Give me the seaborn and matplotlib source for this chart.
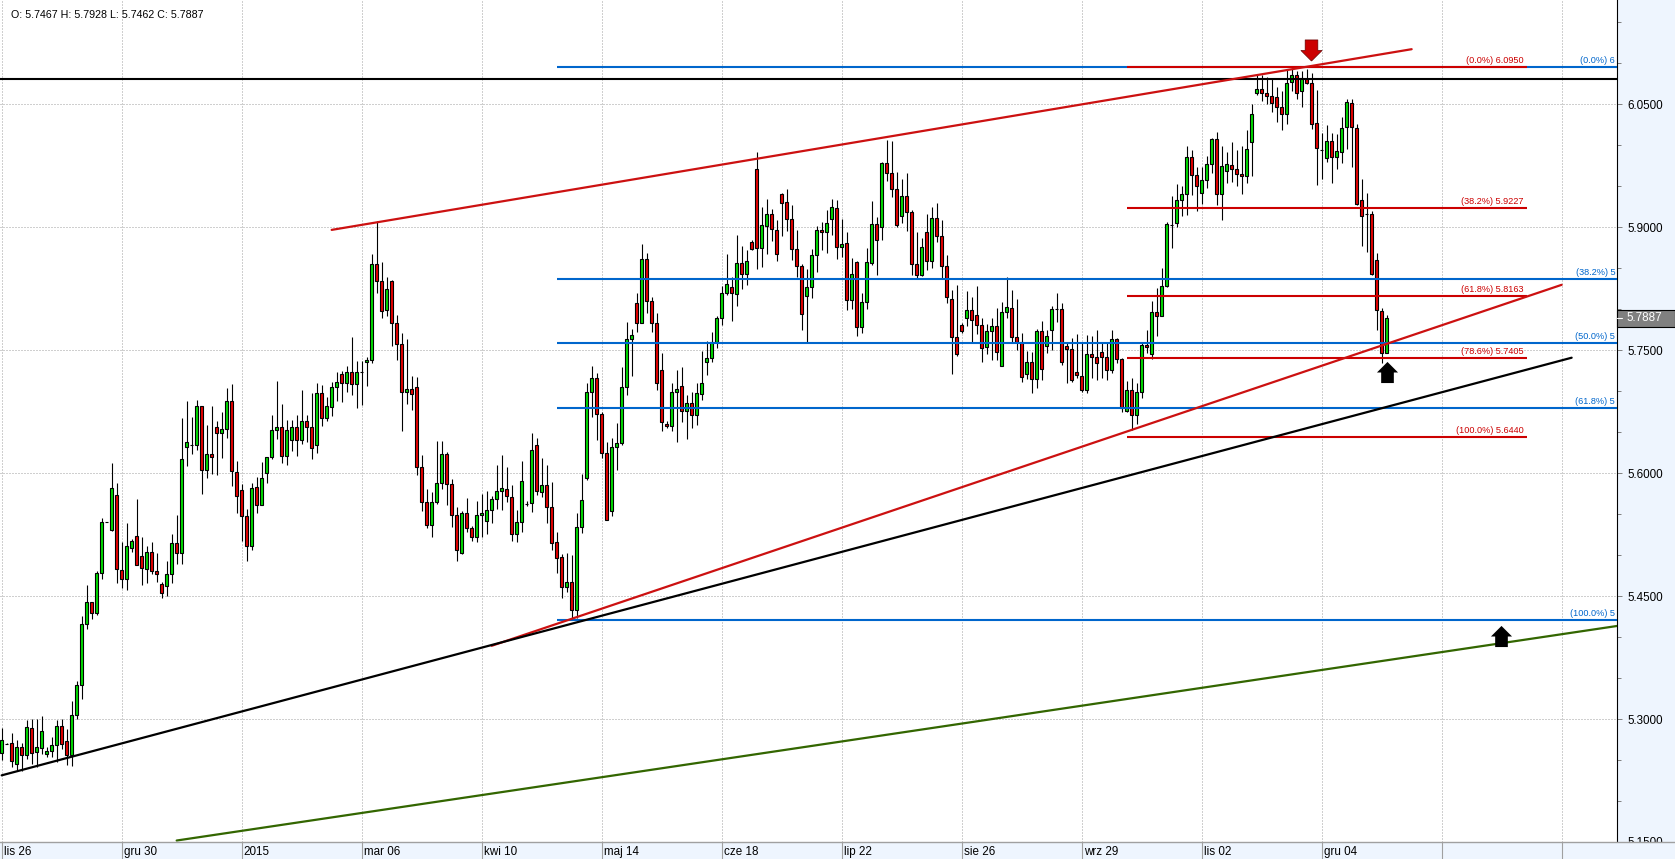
import numpy as np
import pandas as pd
import matplotlib
matplotlib.use("Agg")
import matplotlib.pyplot as plt
from matplotlib.patches import Rectangle
from matplotlib.path import Path
import seaborn as sns

opens = [5.2585,5.2699,5.2707,5.2451,5.2658,5.2557,5.2890,5.2593,5.2646,5.2569,
5.2609,5.2683,5.2914,5.2731,5.2557,5.3048,5.3414,5.4158,5.4426,5.4288,
5.4780,5.5402,5.5304,5.5731,5.4817,5.4707,5.5085,5.5231,5.4987,5.4829,
5.5036,5.4804,5.4646,5.4622,5.4768,5.5146,5.5024,5.6317,5.6345,5.6341,
5.6817,5.6036,5.6231,5.6561,5.6487,5.6536,5.6878,5.6012,5.5792,5.5475,
5.5109,5.5829,5.5609,5.6000,5.6195,5.6524,5.6561,5.6207,5.6402,5.6561,
5.6402,5.6634,5.6561,5.6341,5.6975,5.6670,5.6805,5.7048,5.7207,5.7097,
5.7231,5.7085,5.7231,5.7353,5.7378,5.8548,5.8341,5.7987,5.8341,5.7829,
5.7573,5.6987,5.7024,5.7048,5.6073,5.5646,5.5366,5.5646,5.5878,5.6231,
5.5866,5.5487,5.5024,5.5512,5.5329,5.5219,5.5487,5.5414,5.5548,5.5683,
5.5780,5.5805,5.5707,5.5256,5.5402,5.5626,5.5634,5.6341,5.5768,5.5853,
5.5585,5.5158,5.4975,5.4609,5.4670,5.4329,5.5341,5.5939,5.6987,5.7158,
5.6719,5.6244,5.5536,5.6317,5.6366,5.7048,5.7634,5.8073,5.7829,5.8609,
5.8097,5.7829,5.7256,5.6597,5.6573,5.6987,5.7061,5.6756,5.6853,5.6707,
5.6963,5.7353,5.7402,5.7597,5.7890,5.8195,5.8268,5.8183,5.8561,5.8427,
5.8817,5.9707,5.8744,5.9012,5.9158,5.8963,5.9406,5.9305,5.9097,5.8731,
5.8529,5.8159,5.8268,5.8659,5.8963,5.8939,5.9098,5.9232,5.8756,5.8805,
5.8110,5.8573,5.7781,5.8085,5.8561,5.9037,5.9000,5.9781,5.9659,5.9463,
5.9134,5.9378,5.9183,5.8549,5.8415,5.8939,5.8585,5.9110,5.8890,5.8524,
5.8122,5.7659,5.7805,5.7890,5.7988,5.7927,5.7805,5.7537,5.7732,5.7793,
5.7305,5.7963,5.8012,5.7659,5.7598,5.7207,5.7354,5.7146,5.7732,5.7549,
5.7744,5.8000,5.8000,5.7549,5.7512,5.7232,5.7183,5.7012,5.7451,5.7415,
5.7476,5.7415,5.7256,5.7634,5.7390,5.6756,5.7012,5.6707,5.6988,5.7561,
5.7451,5.7963,5.7915,5.8281,5.9029,5.9049,5.9329,5.9403,5.9854,5.9634,
5.9415,5.9573,5.9768,6.0073,5.9402,5.9682,5.9756,5.9707,5.9646,5.9621,
6.0036,6.0630,6.0682,6.0634,6.0597,6.0585,6.0463,6.0378,6.0768,6.0853,
6.0658,6.0804,6.0756,6.0268,5.9939,5.9841,6.0048,5.9853,5.9914,6.0219,
6.0512,6.0207,5.9329,5.9158,5.9158,5.8597,5.7975,5.7467]

highs = [5.2894,5.2705,5.2829,5.2748,5.2711,5.2992,5.3000,5.3000,5.3040,5.2658,
5.2780,5.2983,5.3004,5.2882,5.3223,5.3463,5.4256,5.4638,5.4426,5.4804,
5.5451,5.5406,5.6126,5.5878,5.5162,5.5390,5.5199,5.5687,5.5223,5.5109,
5.5158,5.5028,5.4670,5.4931,5.5260,5.5491,5.6674,5.6878,5.6687,5.6894,
5.6817,5.6589,5.6817,5.6638,5.6743,5.7040,5.7089,5.6146,5.5870,5.5565,
5.5882,5.5951,5.6134,5.6199,5.6711,5.7117,5.6845,5.6650,5.6650,5.6711,
5.7016,5.6711,5.6979,5.7101,5.7077,5.6926,5.7109,5.7231,5.7244,5.7309,
5.7662,5.7365,5.7361,5.7414,5.8674,5.9069,5.8573,5.8390,5.8357,5.7926,
5.7711,5.7634,5.7187,5.7174,5.6219,5.5809,5.5768,5.6390,5.6390,5.6256,
5.5927,5.5585,5.5536,5.5695,5.5349,5.5658,5.5740,5.5784,5.5719,5.6097,
5.6219,5.6077,5.5853,5.5548,5.6146,5.5654,5.6487,5.6427,5.6183,5.6101,
5.5890,5.5284,5.5012,5.5024,5.4996,5.5512,5.5988,5.7097,5.7309,5.7223,
5.6744,5.6378,5.6427,5.6609,5.7292,5.7845,5.7756,5.8195,5.8796,5.8683,
5.8146,5.7951,5.7463,5.6634,5.7101,5.7256,5.7292,5.6951,5.6987,5.7101,
5.7492,5.7613,5.7723,5.7910,5.8284,5.8670,5.8390,5.8906,5.8772,5.8723,
5.8845,5.9914,5.9244,5.9341,5.9219,5.9089,5.9410,5.9463,5.9272,5.8967,
5.8549,5.8488,5.8732,5.9016,5.9065,5.9211,5.9342,5.9329,5.9098,5.8939,
5.8622,5.8585,5.8195,5.8744,5.9317,5.9122,5.9789,6.0065,6.0049,5.9675,
5.9585,5.9659,5.9211,5.8939,5.8866,5.9159,5.9244,5.9293,5.9089,5.8663,
5.8232,5.8293,5.7829,5.8216,5.8146,5.8285,5.7890,5.7821,5.7890,5.8012,
5.8085,5.8394,5.8232,5.8122,5.7707,5.7484,5.7476,5.7756,5.7850,5.7748,
5.8037,5.8199,5.8077,5.7585,5.7646,5.7695,5.7585,5.7687,5.7675,5.7748,
5.7585,5.7585,5.7748,5.7646,5.7398,5.7118,5.7159,5.7098,5.7598,5.7748,
5.8098,5.8256,5.8500,5.9061,5.9382,5.9524,5.9496,5.9988,5.9935,5.9732,
5.9732,5.9862,6.0085,6.0158,5.9987,5.9918,6.0036,5.9943,5.9987,6.0186,
6.0500,6.0869,6.0857,6.0829,6.0804,6.0707,6.0662,6.0926,6.0926,6.0910,
6.0898,6.0926,6.0878,6.0674,6.0146,6.0247,6.0146,6.0134,6.0341,6.0560,
6.0560,6.0256,5.9585,5.9414,5.9195,5.8682,5.8012,5.7928]

lows = [5.2504,5.2690,5.2414,5.2374,5.2361,5.2516,5.2455,5.2414,5.2577,5.2536,
5.2536,5.2475,5.2630,5.2443,5.2422,5.2996,5.3239,5.4093,5.4223,5.4264,
5.4703,5.5398,5.5288,5.4662,5.4601,5.4569,5.5032,5.4874,5.4630,5.4662,
5.4764,5.4670,5.4479,5.4496,5.4662,5.4886,5.4886,5.6081,5.6235,5.6276,
5.5739,5.5943,5.5983,5.5971,5.6187,5.6430,5.5837,5.5508,5.5166,5.4922,
5.5057,5.5512,5.5605,5.5878,5.6166,5.6418,5.6126,5.6093,5.6264,5.6207,
5.6357,5.6378,5.6166,5.6248,5.6569,5.6630,5.6695,5.6874,5.6861,5.6983,
5.6947,5.6788,5.6833,5.7057,5.7337,5.8195,5.7890,5.7910,5.7544,5.7374,
5.6508,5.6845,5.6764,5.5979,5.5532,5.5325,5.5215,5.5622,5.5805,5.5605,
5.5337,5.4922,5.5012,5.5276,5.5166,5.5154,5.5215,5.5252,5.5390,5.5561,
5.5553,5.5642,5.5166,5.5154,5.5276,5.5601,5.5520,5.5731,5.5703,5.5386,
5.5057,5.4780,5.4471,5.4544,5.4219,5.4231,5.5268,5.5910,5.6679,5.6398,
5.6183,5.5422,5.5471,5.6032,5.6337,5.6955,5.7179,5.7715,5.7829,5.7951,
5.7719,5.7008,5.6508,5.6548,5.6508,5.6378,5.6622,5.6418,5.6544,5.6589,
5.6894,5.7191,5.7349,5.7524,5.7800,5.8166,5.7849,5.8032,5.8248,5.8296,
5.8723,5.8492,5.8508,5.8674,5.8825,5.8589,5.8886,5.8955,5.8601,5.8390,
5.7740,5.7585,5.8130,5.8447,5.8724,5.8683,5.8902,5.8610,5.8634,5.7984,
5.8000,5.7667,5.7707,5.8000,5.8533,5.8419,5.8837,5.9557,5.9366,5.8996,
5.9049,5.8947,5.8415,5.8378,5.8398,5.8472,5.8500,5.8821,5.8378,5.8073,
5.7211,5.7423,5.7707,5.7789,5.7585,5.7695,5.7354,5.7451,5.7382,5.7382,
5.7301,5.7890,5.7585,5.7504,5.7110,5.7150,5.6976,5.7037,5.7130,5.7463,
5.7496,5.7837,5.7321,5.7098,5.7110,5.7159,5.6988,5.6976,5.7159,5.7138,
5.7159,5.7130,5.7220,5.7342,5.6740,5.6744,5.6520,5.6602,5.6915,5.7463,
5.7390,5.7675,5.7911,5.8264,5.8744,5.8996,5.9138,5.9142,5.9390,5.9191,
5.9276,5.9476,5.9659,5.9272,5.9089,5.9536,5.9556,5.9504,5.9406,5.9544,
5.9626,6.0613,6.0532,6.0496,6.0410,6.0284,6.0186,6.0260,6.0666,6.0560,
6.0471,6.0748,6.0195,5.9516,5.9585,5.9796,5.9544,5.9711,5.9780,5.9955,
5.9739,5.9268,5.8772,5.8691,5.8418,5.7739,5.7341,5.7462]

closes = [5.2743,5.2695,5.2487,5.2658,5.2557,5.2902,5.2585,5.2658,5.2853,5.2609,
5.2683,5.2914,5.2695,5.2557,5.3048,5.3414,5.4158,5.4426,5.4292,5.4780,
5.5402,5.5398,5.5817,5.4829,5.4707,5.5109,5.5170,5.4878,5.4841,5.5036,
5.4804,5.4768,5.4536,5.4768,5.5146,5.5024,5.6170,5.6378,5.6342,5.6817,
5.6036,5.6231,5.6195,5.6487,5.6536,5.6878,5.6024,5.5719,5.5475,5.5109,
5.5817,5.5609,5.5939,5.6195,5.6524,5.6561,5.6207,5.6524,5.6561,5.6402,
5.6634,5.6561,5.6304,5.6975,5.6670,5.6817,5.7052,5.7109,5.7097,5.7231,
5.7085,5.7231,5.7228,5.7378,5.8548,5.8341,5.7975,5.8244,5.7829,5.7573,
5.6987,5.7024,5.6963,5.6073,5.5646,5.5366,5.5646,5.5878,5.6231,5.5866,
5.5487,5.5061,5.5512,5.5329,5.5219,5.5487,5.5512,5.5548,5.5683,5.5780,
5.5813,5.5719,5.5256,5.5402,5.5902,5.5622,5.6280,5.5780,5.5853,5.5585,
5.5146,5.4963,5.4609,5.4670,5.4329,5.5341,5.5670,5.6987,5.7158,5.6719,
5.6244,5.5426,5.6317,5.6366,5.7048,5.7634,5.7683,5.7829,5.8609,5.8097,
5.7829,5.7097,5.6622,5.6573,5.6987,5.7024,5.6756,5.6853,5.6707,5.6975,
5.7097,5.7402,5.7597,5.7890,5.8195,5.8305,5.8195,5.8561,5.8427,5.8585,
5.8731,5.8744,5.9024,5.9158,5.8975,5.8670,5.9300,5.9097,5.8731,5.8524,
5.7939,5.8268,5.8659,5.8963,5.8935,5.9049,5.9244,5.8756,5.8793,5.8110,
5.8427,5.7781,5.8085,5.8573,5.9037,5.8842,5.9781,5.9659,5.9463,5.9024,
5.9378,5.9183,5.8549,5.8415,5.8756,5.8585,5.9110,5.8890,5.8524,5.8146,
5.7659,5.7451,5.7732,5.7988,5.7866,5.7805,5.7524,5.7732,5.7793,5.7476,
5.7963,5.8024,5.7659,5.7598,5.7171,5.7354,5.7146,5.7732,5.7268,5.7671,
5.8000,5.7996,5.7354,5.7512,5.7134,5.7191,5.7012,5.7451,5.7415,5.7342,
5.7415,5.7256,5.7634,5.7390,5.6793,5.7012,5.6707,5.6988,5.7561,5.7537,
5.7963,5.7915,5.8281,5.9037,5.9025,5.9329,5.9403,5.9854,5.9634,5.9500,
5.9573,5.9768,6.0073,5.9402,5.9743,5.9768,5.9707,5.9646,5.9621,5.9951,
6.0378,6.0682,6.0634,6.0597,6.0512,6.0463,6.0378,6.0756,6.0853,6.0634,
6.0817,6.0756,6.0256,5.9963,5.9935,6.0048,5.9853,5.9926,6.0207,6.0524,
6.0219,5.9280,5.9134,5.9154,5.8426,5.7987,5.7463,5.7887]

assert len(opens) == len(highs) == len(lows) == len(closes) == 278

date_labels = ["lis 26", "gru 30", "2015", "mar 06", "kwi 10", "maj 14", "cze 18",
               "lip 22", "sie 26", "wrz 29", "lis 02", "gru 04", "", ""]
grid_bars = [24 * i for i in range(14)]
major_prices = [5.15, 5.30, 5.45, 5.60, 5.75, 5.90, 6.05]
minor_prices = [5.20, 5.25, 5.35, 5.40, 5.50, 5.55, 5.65, 5.70, 5.80, 5.85, 5.95, 6.00, 6.10, 6.15]

red_fib_pct = ["0.0", "38.2", "61.8", "78.6", "100.0"]
red_fib_levels = [6.0950, 5.9227, 5.8163, 5.7405, 5.6440]
red_fib_span = [225, 305]
blue_fib_pct = ["0.0", "38.2", "50.0", "61.8", "100.0"]
blue_fib_levels = [6.0956, 5.8373, 5.7585, 5.6794, 5.4209]
blue_fib_shown = ["6", "5", "5", "5", "5"]
blue_fib_span = [111, 323.4]
resistance_price = 6.0808

trend_bars = {"red_top": [66, 282], "red_low": [98, 312], "black": [0, 314], "green": [35, 323.2]}
trend_prices = {"red_top": [5.8966, 6.1170], "red_low": [5.3893, 5.8296],
                "black": [5.2313, 5.7407], "green": [5.1518, 5.4136]}
trend_colors = {"red_top": "#CC1111", "red_low": "#CC1111", "black": "#000000", "green": "#336600"}

arrow_bars = [261.9, 277, 299.9]
arrow_prices = [6.1157, 5.7238, 5.4012]
last_price = 5.7887
ohlc_text = "O: 5.7467 H: 5.7928 L: 5.7462 C: 5.7887"

W, H = 1675, 859
PLOT_W, PLOT_H = 1617, 842
BAND = "#EEF5FE"
BLUE = "#0066CC"
RED = "#CC0000"
GRAY = "#A0A0A0"
UP = "#00DC00"
DOWN = "#E60000"

sns.set_theme(style="white")
plt.rcParams["font.family"] = ["Liberation Sans", "DejaVu Sans"]

fig = plt.figure(figsize=(W / 100, H / 100), dpi=100, facecolor=BAND)
ax = fig.add_axes([0, (H - PLOT_H) / H, PLOT_W / W, PLOT_H / H], facecolor="white")

# grid
dot = (0, (1, 2))
ax.vlines(grid_bars, 0, 1, transform=ax.get_xaxis_transform(), colors=GRAY, lw=0.72, linestyles=[dot], zorder=1)
ax.hlines(major_prices, 0, 1, transform=ax.get_yaxis_transform(), colors=GRAY, lw=0.72, linestyles=[dot], zorder=1)

# candles
candles = pd.DataFrame({"bar": np.arange(len(opens)), "open": opens, "high": highs, "low": lows, "close": closes})
candles["bottom"] = candles[["open", "close"]].min(axis=1)
candles["height"] = (candles["close"] - candles["open"]).abs()
candles["color"] = np.where(candles["close"] >= candles["open"], UP, DOWN)
ax.vlines(candles["bar"], candles["low"], candles["high"], colors="black", lw=0.8, zorder=2)
ax.bar(candles["bar"], candles["height"], bottom=candles["bottom"], width=0.6,
       color=candles["color"], edgecolor="black", linewidth=0.8, zorder=3)

# levels
for lev in blue_fib_levels:
    ax.plot(blue_fib_span, [lev, lev], color=BLUE, lw=1.5, solid_capstyle="butt", zorder=4)
for lev in red_fib_levels:
    ax.plot(red_fib_span, [lev, lev], color=RED, lw=1.5, solid_capstyle="butt", zorder=5)
ax.axhline(resistance_price, color="black", lw=1.5, zorder=6)

# trend lines through seaborn
trend_rows = [(name, b, p) for name in trend_bars for b, p in zip(trend_bars[name], trend_prices[name])]
trend_df = pd.DataFrame(trend_rows, columns=["line", "bar", "price"])
sns.lineplot(data=trend_df, x="bar", y="price", hue="line", palette=trend_colors, estimator=None,
             sort=False, legend=False, lw=1.6, ax=ax, zorder=6)

# arrows
up_verts = [(0, 1), (1, 0), (0.6, 0), (0.6, -1), (-0.6, -1), (-0.6, 0), (-1, 0), (0, 1)]
up_arrow = Path(up_verts)
down_arrow = Path([(x, -y) for x, y in up_verts])
ax.plot(arrow_bars[0], arrow_prices[0], marker=down_arrow, ms=15.2, color=RED, mec="#660000", mew=0.5, zorder=7)
ax.plot(arrow_bars[1:], arrow_prices[1:], ls="", marker=up_arrow, ms=15.2, color="black", mew=0, zorder=7)

# fib labels
for pct, lev in zip(red_fib_pct, red_fib_levels):
    ax.annotate(f"({pct}%) {lev:.4f}", (red_fib_span[1], lev), xytext=(-3, 2.0), textcoords="offset pixels",
                ha="right", va="bottom", fontsize=6.6, color=RED, zorder=8)
for pct, lev, shown in zip(blue_fib_pct, blue_fib_levels, blue_fib_shown):
    ax.annotate(f"({pct}%) {shown}", (blue_fib_span[1], lev), xytext=(-3.5, 2.0), textcoords="offset pixels",
                ha="right", va="bottom", fontsize=6.6, color=BLUE, zorder=8, annotation_clip=False)

ax.text(11 / PLOT_W, 1 - 14.5 / PLOT_H, ohlc_text, transform=ax.transAxes, ha="left", va="center",
        fontsize=7.65, color="black", zorder=8)

# limits and axes
ax.set_xlim(-0.334, 323.07)
ax.set_ylim(5.1518, 6.1770)
ax.set_xlabel("")
ax.set_ylabel("")
ax.set_xticks([])
ax.yaxis.tick_right()
ax.set_yticks(major_prices)
ax.set_yticks(minor_prices, minor=True)
ax.set_yticklabels([f"{p:.4f}" for p in major_prices])
ax.tick_params(axis="y", which="major", length=3.8, width=0.7, color="#808080", pad=3.4,
               labelsize=8.4, labelcolor="black", right=True)
ax.tick_params(axis="y", which="minor", length=3, width=0.7, color="#808080", right=True)
for side in ["top", "left", "bottom"]:
    ax.spines[side].set_visible(False)
ax.spines["right"].set_color("black")
ax.spines["right"].set_linewidth(0.8)

# last price tag
yt = ax.get_yaxis_transform()
tag_half = 0.0105
ax.add_patch(Rectangle((1, last_price - tag_half), W / PLOT_W - 1, 2 * tag_half, transform=yt, clip_on=False,
                       facecolor="#808080", edgecolor="black", lw=0.8, zorder=9))
ax.plot([1, 1.003], [last_price, last_price], transform=yt, clip_on=False, color="white", lw=0.8, zorder=10)
ax.text(1.0061, last_price, f"{last_price:.4f}", transform=yt, clip_on=False, ha="left", va="center",
        fontsize=8.4, color="white", zorder=10)

# bottom date band
band = fig.add_axes([0, 0, 1, (H - PLOT_H) / H], facecolor=BAND, zorder=5)
band.set_xlim(-0.334, -0.334 + W / 5)
band.set_ylim(0, 1)
band.set_xticks([])
band.set_yticks([])
for side in ["left", "right", "bottom"]:
    band.spines[side].set_visible(False)
band.spines["top"].set_color(GRAY)
band.spines["top"].set_linewidth(1.0)
band.vlines(grid_bars, 0, 1, colors=GRAY, lw=0.8)
for b, lab in zip(grid_bars, date_labels):
    band.text(b + 0.4, 0.44, lab, ha="left", va="center", fontsize=8.4, color="black")

fig.savefig("out.png", dpi=100, facecolor=fig.get_facecolor())
